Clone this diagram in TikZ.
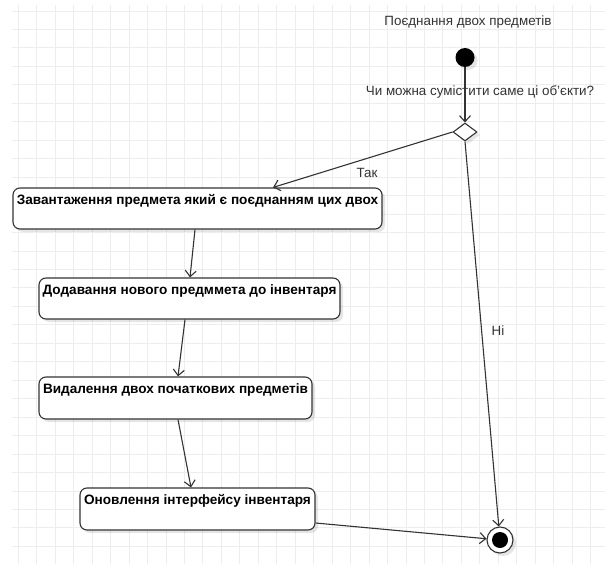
\documentclass[tikz,border=0pt]{standalone}
\usepackage{fontspec}
\setmainfont{Liberation Sans}
\usetikzlibrary{arrows.meta,shapes.geometric,shadows}

\definecolor{ink}{HTML}{333333}
\definecolor{gridline}{HTML}{EDEDED}

\tikzset{
  flow/.style={draw=ink, line width=1.1pt, -{Straight Barb[length=6pt,width=11pt,line width=1.1pt]}},
  softshadow/.style={drop shadow={shadow xshift=3pt, shadow yshift=-3pt, fill=black, opacity=0.10}},
  actbox/.style={draw=ink, line width=1.1pt, rounded corners=7pt, fill=white, softshadow,
                 inner sep=0pt},
  acttext/.style={anchor=north, font=\bfseries\fontsize{13.6}{15}\selectfont, text=black, inner sep=0pt},
  lbl/.style={font=\fontsize{13.4}{15}\selectfont, text=ink, inner sep=0pt},
}

\begin{document}
\begin{tikzpicture}[x=1pt,y=-1pt]
  \useasboundingbox (0,0) rectangle (605,564);
  \fill[white] (0,0) rectangle (605,564);

  % background grid
  \foreach \k in {0,...,31}
    \draw[gridline, line width=0.9pt] ({18.3+\k*18.46},5) -- ({18.3+\k*18.46},564);
  \foreach \k in {0,...,29}
    \draw[gridline, line width=0.9pt] (12,{11+\k*18.46}) -- (605,{11+\k*18.46});

  % start / decision / end
  \node[lbl] (title) at (468,22) {Поєднання двох предметів};
  \node[circle, fill=black, minimum size=19pt, inner sep=0pt, softshadow] (start) at (465,57.5) {};
  \node[lbl] (question) at (480,92) {Чи можна сумістити саме ці об’єкти?};
  \node[diamond, draw=ink, line width=1.1pt, fill=white, minimum width=24pt, minimum height=18pt,
        inner sep=0pt, softshadow] (dec) at (465,132) {};
  \node[circle, draw=ink, line width=1.1pt, fill=white, minimum size=26pt, inner sep=0pt, softshadow] (end) at (500,540) {};
  \node[circle, fill=black, minimum size=16pt, inner sep=0pt] (endcore) at (end.center) {};

  % activity boxes
  \node[actbox, minimum width=369pt, minimum height=41pt] (b1) at (197.5,208.5) {};
  \node[acttext] (b1t) at ([yshift=-6.5pt]b1.north) {Завантаження предмета який є поєднанням цих двох};

  \node[actbox, minimum width=301pt, minimum height=41pt] (b2) at (189.5,298.5) {};
  \node[acttext] (b2t) at ([yshift=-6.5pt]b2.north) {Додавання нового предммета до інвентаря};

  \node[actbox, minimum width=273pt, minimum height=42pt] (b3) at (175.5,398) {};
  \node[acttext] (b3t) at ([yshift=-6.5pt]b3.north) {Видалення двох початкових предметів};

  \node[actbox, minimum width=235pt, minimum height=42pt] (b4) at (197.5,509) {};
  \node[acttext] (b4t) at ([yshift=-6.5pt]b4.north) {Оновлення інтерфейсу інвентаря};

  % transitions
  \draw[flow] (start) -- (dec.north);
  \draw[flow] (dec.west) -- ([xshift=75.5pt]b1.north);
  \node[lbl] (yes) at (367,173) {Так};
  \draw[flow] (dec.south) -- (end);
  \node[lbl] (no) at (498,331) {Ні};
  \draw[flow] ([xshift=-2.5pt]b1.south) -- ([xshift=0.5pt]b2.north);
  \draw[flow] ([xshift=-4.5pt]b2.south) -- ([xshift=2.5pt]b3.north);
  \draw[flow] ([xshift=2.5pt]b3.south) -- ([xshift=-6.5pt]b4.north);
  \draw[flow] ([yshift=-14pt]b4.east) -- (end);
\end{tikzpicture}
\end{document}
